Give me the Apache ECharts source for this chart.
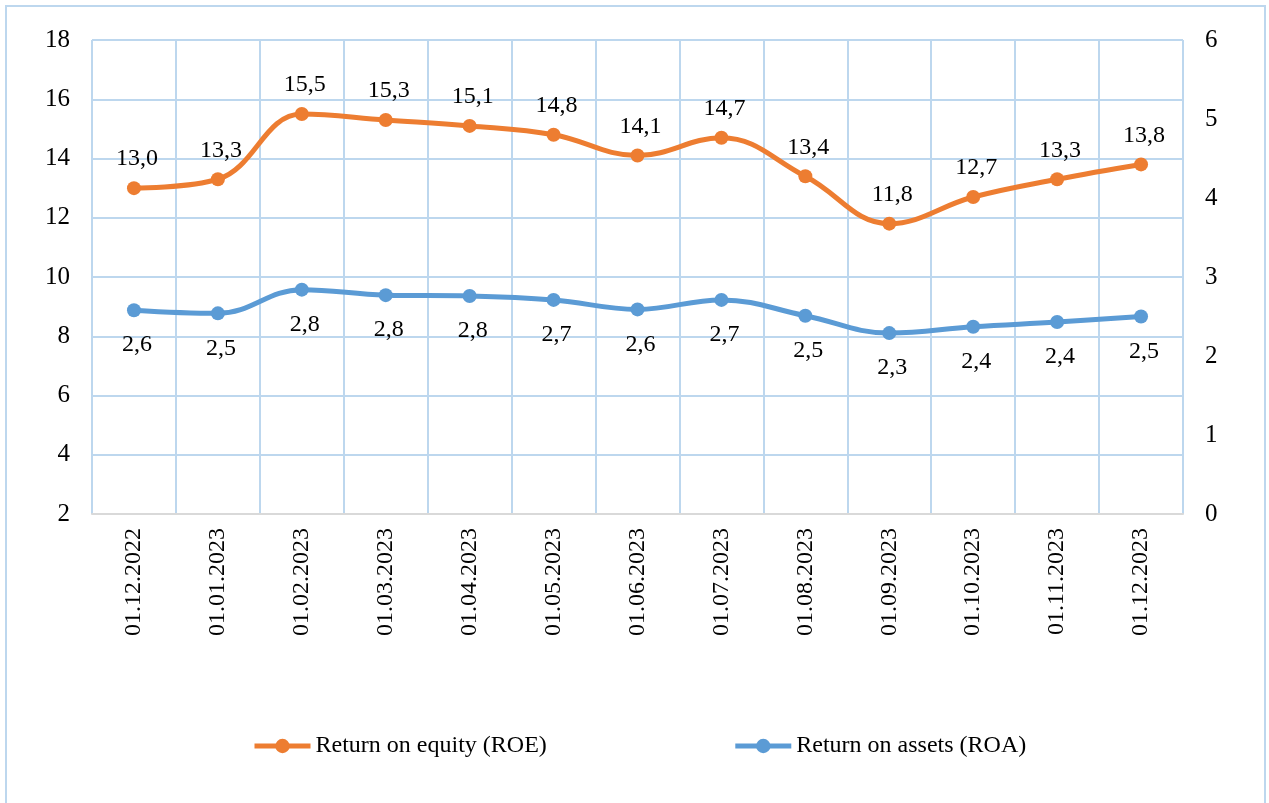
<!DOCTYPE html>
<html>
<head>
<meta charset="utf-8">
<script src="https://cdn.jsdelivr.net/npm/echarts@6/dist/echarts.min.js"></script>
<style>
html,body{margin:0;padding:0;background:#fff;}
#chart{width:1269px;height:803px;}
</style>
</head>
<body>
<div id="chart"></div>
<script>
const categories = ['01.12.2022','01.01.2023','01.02.2023','01.03.2023','01.04.2023','01.05.2023','01.06.2023','01.07.2023','01.08.2023','01.09.2023','01.10.2023','01.11.2023','01.12.2023'];
const roe = [13.0, 13.3, 15.5, 15.3, 15.1, 14.8, 14.1, 14.7, 13.4, 11.8, 12.7, 13.3, 13.8];
const roa = [2.58, 2.54, 2.84, 2.77, 2.76, 2.71, 2.59, 2.71, 2.51, 2.29, 2.37, 2.43, 2.50];
const leftTicks = {min: 2, max: 18, interval: 2};
const rightTicks = {min: 0, max: 6, interval: 1};

const FONT = 'Liberation Serif';
const FS = 24;
const fmt = p => p.value.toFixed(1).replace('.', ',');

const chart = echarts.init(document.getElementById('chart'));
chart.setOption({
  animation: false,
  backgroundColor: '#fff',
  textStyle: {fontFamily: FONT},
  graphic: [{
    type: 'rect', z: -1,
    shape: {x: 6, y: 6, width: 1259, height: 820},
    style: {fill: 'none', stroke: '#BDD7EE', lineWidth: 2}
  }],
  grid: {left: 92, right: 86, top: 40, bottom: 289, containLabel: false},
  legend: {
    left: 247, top: 729,
    itemWidth: 56, itemHeight: 18, itemGap: 186,
    lineStyle: {width: 5},
    textStyle: {fontFamily: FONT, fontSize: FS, color: '#000'},
    data: ['Return on equity (ROE)', 'Return on assets (ROA)']
  },
  xAxis: {
    type: 'category', data: categories, boundaryGap: true,
    axisLine: {show: true, lineStyle: {color: '#D9D9D9', width: 2}},
    axisTick: {show: false},
    splitLine: {show: true, interval: 0, lineStyle: {color: '#BDD7EE', width: 2}},
    axisLabel: {rotate: 90, interval: 0, margin: 14, fontFamily: FONT, fontSize: FS, color: '#000'}
  },
  yAxis: [{
    type: 'value', position: 'left', min: leftTicks.min, max: leftTicks.max, interval: leftTicks.interval,
    axisLine: {show: false}, axisTick: {show: false},
    splitLine: {show: true, lineStyle: {color: '#BDD7EE', width: 2}},
    axisLabel: {margin: 22, fontFamily: FONT, fontSize: 25, color: '#000'}
  }, {
    type: 'value', position: 'right', min: rightTicks.min, max: rightTicks.max, interval: rightTicks.interval,
    axisLine: {show: false}, axisTick: {show: false},
    splitLine: {show: false},
    axisLabel: {margin: 22, fontFamily: FONT, fontSize: 25, color: '#000'}
  }],
  series: [{
    name: 'Return on equity (ROE)', type: 'line', yAxisIndex: 0, data: roe,
    smooth: 0.4, symbol: 'circle', symbolSize: 14,
    lineStyle: {color: '#ED7D31', width: 5},
    itemStyle: {color: '#ED7D31'},
    label: {show: true, position: 'top', distance: 10, formatter: fmt, fontFamily: FONT, fontSize: FS, color: '#000', offset: [3, 0]}
  }, {
    name: 'Return on assets (ROA)', type: 'line', yAxisIndex: 1, data: roa,
    smooth: 0.4, symbol: 'circle', symbolSize: 14,
    lineStyle: {color: '#5B9BD5', width: 5},
    itemStyle: {color: '#5B9BD5'},
    label: {show: true, position: 'bottom', distance: 16, formatter: fmt, fontFamily: FONT, fontSize: FS, color: '#000', offset: [3, 0]}
  }]
});
</script>
</body>
</html>
